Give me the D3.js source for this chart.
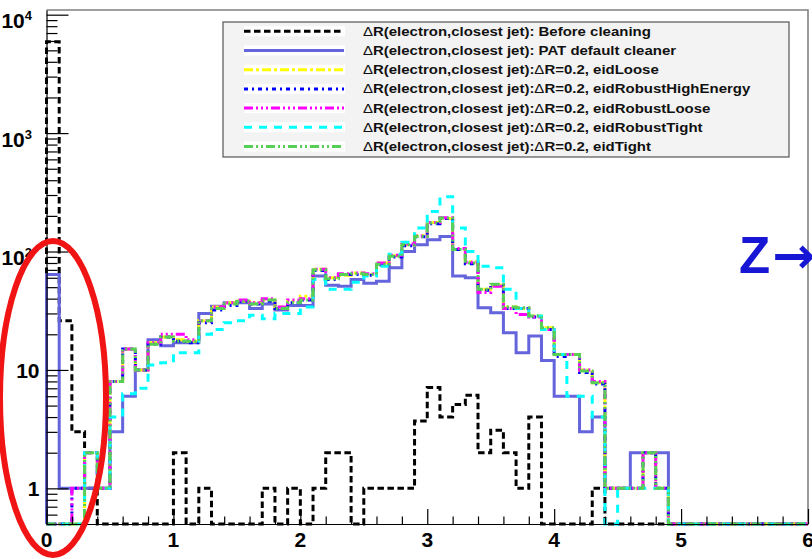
<!DOCTYPE html>
<html><head><meta charset="utf-8">
<script src="https://cdn.jsdelivr.net/npm/d3@7"></script>
<style>
html,body{margin:0;padding:0;background:#fff;overflow:hidden}
svg{display:block}
text{font-family:"Liberation Sans",Arial,Helvetica,sans-serif}
</style>
</head><body>
<svg id="chart" width="812" height="559"></svg>
<script>
// ΔR(electron, closest jet), 60 bins of width 0.1 from 0 to 6
const binEdges = d3.range(0, 61).map(i => +(i * 0.1).toFixed(1));

const beforeCleaning = [5900, 26, 3, 1, 0, 0, 0, 0, 0, 0,
  2, 0, 1, 0, 0, 0, 0, 1, 0, 1,
  0, 1, 2, 2, 0, 1, 1, 1, 1, 3.7,
  7.1, 4.0, 5.1, 6.1, 2.0, 3.1, 2.0, 1, 4.0, 0,
  0, 0, 0, 1, 0, 0, 0, 0, 0, 0,
  0, 0, 0, 0, 0, 0, 0, 0, 0, 0];

const patDefault = [64, 1, 1, 1, 1, 3, 6, 10, 18, 16,
  17, 17, 30, 34.5, 37, 37, 33, 36, 32, 35,
  35, 62, 52, 51, 58, 54, 56, 73, 100, 114,
  126, 134, 62, 60, 33.5, 30.4, 20.6, 14, 19.3, 12,
  6, 6, 3, 4, 1, 1, 2, 2, 2, 0,
  0, 0, 0, 0, 0, 0, 0, 0, 0, 0];

const eidLoose = [0, 0, 0, 2, 1, 8, 15, 10, 17, 19,
  18, 17.5, 26, 34, 37, 38, 37, 39, 34, 38,
  42, 71, 60, 63, 66, 64, 80, 92, 114, 136,
  176, 190, 104, 82, 48, 52, 34, 33, 28.5, 22.7,
  13.5, 13.5, 10, 7.8, 1, 1, 1, 2, 1, 0,
  0, 0, 0, 0, 0, 0, 0, 0, 0, 0];

const eidRobustHighEnergy = [0, 0, 1, 2, 1, 8, 15, 10, 16.5, 19,
  17.5, 17, 25, 32, 35, 38, 36, 38, 33, 37,
  39, 69, 58, 64, 64, 63, 77, 90, 112, 133,
  172, 190, 104, 79, 47, 52, 33, 33, 28, 22,
  13, 13.5, 9.5, 7.6, 1, 1, 1, 2, 1, 0,
  0, 0, 0, 0, 0, 0, 0, 0, 0, 0];

const eidRobustLoose = [0, 0, 1, 2, 1, 8, 15, 10, 17, 20,
  20, 18, 26, 34, 37, 39, 37, 40, 34, 39,
  40, 71, 60, 65, 66, 65, 80, 93, 116, 135,
  176, 193, 106, 81, 45, 51, 33, 29.4, 28, 22,
  13.5, 13.5, 10, 8, 1, 1, 1, 2, 1, 0,
  0, 0, 0, 0, 0, 0, 0, 0, 0, 0];

const eidRobustTight = [0, 0, 0, 2, 1, 4, 6.3, 7, 11, 11.5,
  14, 14, 20, 22, 25, 26, 29, 27, 30, 30,
  34, 58, 48, 48, 55, 62, 75, 95, 120, 158,
  218, 290, 158, 100, 75, 73, 48, 33, 28.5, 22,
  13.5, 6, 6, 4, 0, 1, 1, 1, 1, 0,
  0, 0, 0, 0, 0, 0, 0, 0, 0, 0];

const eidTight = [0, 0, 0, 2, 1, 8, 15, 10, 16.5, 19,
  17.5, 17.5, 26, 33, 36, 38, 36, 39, 33, 37,
  39, 70, 59, 64, 65, 64, 78, 91, 114, 134,
  174, 192, 104, 80, 48, 53, 34, 33.5, 28.5, 22.7,
  13.5, 13.5, 9.8, 7.8, 1, 1, 1, 2, 1, 0,
  0, 0, 0, 0, 0, 0, 0, 0, 0, 0];

// legend entries: text after the leading ΔR, and the selection text after the second ΔR
const legendLabels = [
  ["(electron,closest jet): Before cleaning", null],
  ["(electron,closest jet): PAT default cleaner", null],
  ["(electron,closest jet):", "=0.2, eidLoose"],
  ["(electron,closest jet):", "=0.2, eidRobustHighEnergy"],
  ["(electron,closest jet):", "=0.2, eidRobustLoose"],
  ["(electron,closest jet):", "=0.2, eidRobustTight"],
  ["(electron,closest jet):", "=0.2, eidTight"]
];

const xTickValues = [0, 1, 2, 3, 4, 5, 6];
const yMajorTicks = [1, 10, 100, 1000, 10000];
const yMajorExponents = [null, null, 2, 3, 4];

const series = [
  {vals: beforeCleaning, color: "#000000", dash: "6.5,3.5"},
  {vals: patDefault, color: "#6464dc", dash: null},
  {vals: eidLoose, color: "#ffff00", dash: "9,3,3,3"},
  {vals: eidRobustHighEnergy, color: "#0000ff", dash: "4,4,2,4"},
  {vals: eidRobustLoose, color: "#ff00ff", dash: "9,3,2,3,2,3,2,3"},
  {vals: eidRobustTight, color: "#00ffff", dash: "8,7"},
  {vals: eidTight, color: "#55cf55", dash: "9,3,2,3,2,3"}
];

const svg = d3.select("#chart");
const frame = {left: 46.5, right: 808, top: 10, bottom: 524};
const yMin = 0.5, yMax = 10955;

const x = d3.scaleLinear().domain([0, 6]).range([frame.left, frame.right]);
const y = d3.scaleLog().domain([yMin, yMax]).range([frame.bottom, frame.top]);

// frame border (top and right)
svg.append("path")
  .attr("d", `M${frame.left},${frame.top}H${frame.right}V${frame.bottom}`)
  .attr("fill", "none").attr("stroke", "#808080").attr("stroke-width", 1.6);

// histograms
const stepLine = d3.line();
function stepPoints(vals) {
  const pts = [[x(binEdges[0]), y(yMin)]];
  vals.forEach((v, i) => {
    const yy = y(Math.max(v, yMin));
    pts.push([x(binEdges[i]), yy], [x(binEdges[i + 1]), yy]);
  });
  pts.push([x(binEdges[binEdges.length - 1]), y(yMin)]);
  return pts;
}
const gHist = svg.append("g");
series.forEach(s => {
  gHist.append("path")
    .attr("d", stepLine(stepPoints(s.vals)))
    .attr("fill", "none")
    .attr("stroke", s.color)
    .attr("stroke-width", 3)
    .attr("stroke-dasharray", s.dash)
    .attr("stroke-linejoin", "miter");
});

// axes with inward ticks
const yMinor = [];
[0.1, 1, 10, 100, 1000].forEach(d => {
  for (let k = 2; k <= 9; k++) { const v = +(k * d).toPrecision(3); if (v >= yMin && v < yMax) yMinor.push(v); }
});
svg.append("g").attr("transform", `translate(${frame.left},0)`)
  .call(d3.axisLeft(y).tickValues(yMajorTicks).tickSize(-22).tickSizeOuter(0).tickFormat(""))
  .call(g => g.selectAll("line,path").attr("stroke", "#000").attr("stroke-width", 1.2));
svg.append("g").attr("transform", `translate(${frame.left},0)`)
  .call(d3.axisLeft(y).tickValues(yMinor).tickSize(-11).tickSizeOuter(0).tickFormat(""))
  .call(g => g.select(".domain").remove())
  .call(g => g.selectAll("line").attr("stroke", "#000").attr("stroke-width", 1.2));

const xMinor = d3.range(0, 31).map(i => +(i * 0.2).toFixed(1)).filter(v => !xTickValues.includes(v));
svg.append("g").attr("transform", `translate(0,${frame.bottom})`)
  .call(d3.axisBottom(x).tickValues(xTickValues).tickSize(-15).tickSizeOuter(0).tickFormat(""))
  .call(g => g.selectAll("line,path").attr("stroke", "#000").attr("stroke-width", 1.2));
svg.append("g").attr("transform", `translate(0,${frame.bottom})`)
  .call(d3.axisBottom(x).tickValues(xMinor).tickSize(-7.5).tickSizeOuter(0).tickFormat(""))
  .call(g => g.select(".domain").remove())
  .call(g => g.selectAll("line").attr("stroke", "#000").attr("stroke-width", 1.2));

// tick labels
const labelFont = {size: 21, weight: "bold"};
xTickValues.forEach(v => {
  svg.append("text").attr("x", x(v)).attr("y", 547)
    .attr("text-anchor", "middle").attr("font-size", labelFont.size)
    .attr("font-weight", labelFont.weight).text(v);
});
yMajorTicks.forEach((v, i) => {
  const e = yMajorExponents[i];
  if (e === null) {
    svg.append("text").attr("x", 39.5).attr("y", y(v) + 8)
      .attr("text-anchor", "end").attr("font-size", labelFont.size)
      .attr("font-weight", labelFont.weight).text(v);
  } else {
    const t = svg.append("text").attr("x", 32).attr("y", y(v) + 13.5)
      .attr("text-anchor", "end").attr("font-size", labelFont.size)
      .attr("font-weight", labelFont.weight);
    t.append("tspan").text("10");
    t.append("tspan").attr("dy", -8).attr("font-size", 13).text(e);
  }
});

// legend
const leg = {x: 223, y: 22, w: 566, h: 135};
svg.append("rect").attr("x", leg.x).attr("y", leg.y).attr("width", leg.w).attr("height", leg.h)
  .attr("fill", "#f3f3f3").attr("stroke", "#555").attr("stroke-width", 1.2);
const rowY = i => 31.3 + i * 19.2;
const textX = 363;
const legTexts = [];
series.forEach((s, i) => {
  const cy = rowY(i);
  svg.append("rect").attr("x", 244).attr("y", cy - 5).attr("width", 101).attr("height", 10).attr("fill", "#fff");
  svg.append("line").attr("x1", 244).attr("x2", 344).attr("y1", cy).attr("y2", cy)
    .attr("stroke", s.color).attr("stroke-width", 3).attr("stroke-dasharray", s.dash);
  const [a, b] = legendLabels[i];
  const t = svg.append("text").attr("x", textX).attr("y", cy + 4.6)
    .attr("font-size", 13).attr("font-weight", "bold").attr("fill", "#111");
  t.append("tspan").attr("font-weight", "normal").text("Δ");
  t.append("tspan").text("R" + a);
  if (b) {
    t.append("tspan").attr("font-weight", "normal").text("Δ");
    t.append("tspan").text("R" + b);
  }
  legTexts.push(t);
});
// stretch legend text horizontally to the box layout
const w0 = legTexts[0].node().getComputedTextLength();
const k = 288 / w0;
legTexts.forEach(t => t.attr("transform", `translate(${textX},0) scale(${k},1) translate(${-textX},0)`));

// annotation overlay
const z = svg.append("text").attr("x", 739).attr("y", 273)
  .attr("font-size", 51).attr("font-weight", "bold").attr("fill", "#1616d4");
z.append("tspan").text("Z");
z.append("tspan").attr("font-family", "'DejaVu Sans',sans-serif").attr("dx", 2).text("→");
svg.append("ellipse").attr("cx", 53).attr("cy", 398).attr("rx", 53).attr("ry", 157)
  .attr("fill", "none").attr("stroke", "#f01414").attr("stroke-width", 6);
</script>
</body></html>
